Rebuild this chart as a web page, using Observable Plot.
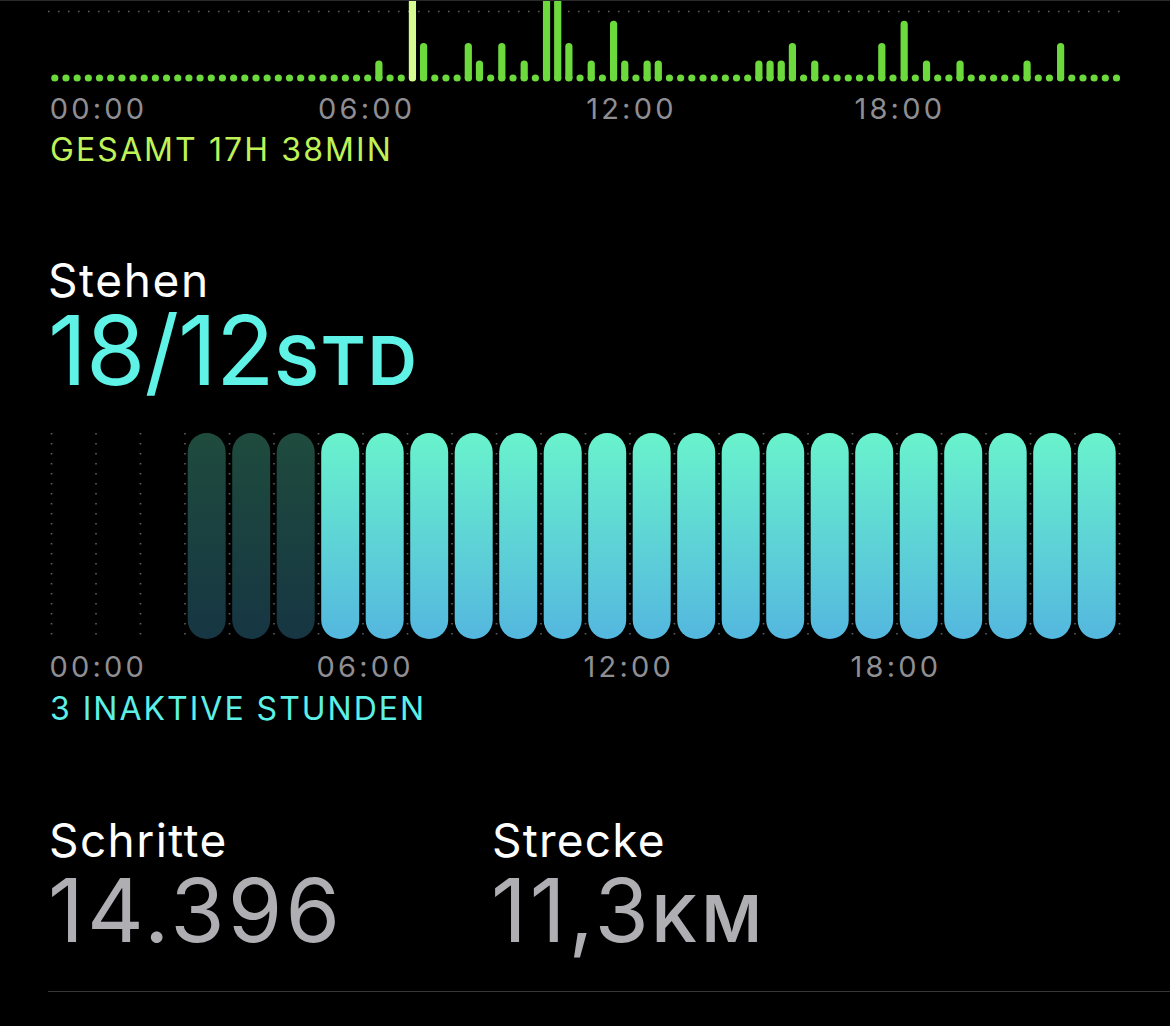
<!DOCTYPE html>
<html><head><meta charset="utf-8">
<script src="https://cdn.jsdelivr.net/npm/d3@7"></script>
<script src="https://cdn.jsdelivr.net/npm/@observablehq/plot@0.6"></script>
<style>
html,body{margin:0;padding:0;background:#000;width:1170px;height:1026px;overflow:hidden;}
body{position:relative;font-family:Inter,"Noto Sans",sans-serif;}
.t{position:absolute;white-space:nowrap;line-height:0.8;}
#exercise,#stand{position:absolute;left:0;}
#exercise{top:0;}
#stand{top:420px;}
#topline{position:absolute;left:0;top:0;width:1170px;height:1px;background:#2a2a2c;}
#divider{position:absolute;left:48px;top:991px;width:1122px;height:1px;background:#38383a;}
</style></head><body>
<div id="exercise"></div>
<div id="topline"></div>
<div class="t" id="total" style="left:50px;color:#bff257;font-size:32px;letter-spacing:2.1px"></div>
<div class="t" id="standTitle" style="left:48px;color:#fff;font-size:46px;letter-spacing:1.6px">Stehen</div>
<div class="t" id="standValue" style="left:48px;color:#5ff3e7;font-size:96px;letter-spacing:-1px"><span id="standNum"></span><span style="font-size:68px;font-weight:600;letter-spacing:2px;margin-left:1px">STD</span></div>
<div id="stand"></div>
<div class="t" id="inactive" style="left:50px;color:#5cf0e6;font-size:32px;letter-spacing:2px"></div>
<div class="t" id="stepsTitle" style="left:49px;color:#fff;font-size:46px;letter-spacing:1.4px">Schritte</div>
<div class="t" id="distTitle" style="left:492px;color:#fff;font-size:46px;letter-spacing:1.2px">Strecke</div>
<div class="t" id="stepsValue" style="left:48px;color:#aeaeb3;font-size:88px;letter-spacing:3.2px"></div>
<div class="t" id="distValue" style="left:491px;color:#aeaeb3;font-size:88px"><span id="distNum" style="letter-spacing:3px"></span><span style="font-size:65px;font-weight:600;letter-spacing:4px">KM</span></div>
<div id="divider"></div>
<script>
// ---------- data ----------
// exercise minutes per 15-minute slot (96 slots, 00:00 - 23:45)
const exerciseMinutes = [
  0,0,0,0,0,0,0,0,0,0, 0,0,0,0,0,0,0,0,0,0, 0,0,0,0,0,0,0,0,0,3,
  0,0,20,7,0,0,0,7,3,0, 7,0,3,0,20,20,7,0,3,0,
  12,3,0,3,3,0,0,0,0,0, 0,0,0,3,3,3,7,0,3,0,
  0,0,0,0,7,0,12,0,3,0, 0,3,0,0,0,0,0,3,0,0,
  7,0,0,0,0,0
];
const workoutSlots = [32];
const exerciseGoalLine = [15];
const tickHours = [0, 6, 12, 18];
const tickLabels = ["00:00", "06:00", "12:00", "18:00"];

const standHours = [0,1,2,3,4,5,6,7,8,9,10,11,12,13,14,15,16,17,18,19,20,21,22,23];
const standStatus = ["none","none","none","inactive","inactive","inactive",
  "stood","stood","stood","stood","stood","stood","stood","stood","stood",
  "stood","stood","stood","stood","stood","stood","stood","stood","stood"];
const standGridHours = [0,1,2,3,4,5,6,7,8,9,10,11,12,13,14,15,16,17,18,19,20,21,22,23,24];

const totalLabel = "GESAMT 17H 38MIN";
const standCount = "18/12";
const inactiveLabel = "3 INAKTIVE STUNDEN";
const stepsValue = "14.396";
const distanceValue = "11,3";

// ---------- text placement by baseline (line-height 0.8) ----------
function place(id, baseline, fs) {
  const el = document.getElementById(id);
  el.style.top = (baseline - 0.764 * fs) + "px";
}
document.getElementById("total").textContent = totalLabel;
document.getElementById("inactive").textContent = inactiveLabel;
document.getElementById("standNum").textContent = standCount;
document.getElementById("stepsValue").textContent = stepsValue;
document.getElementById("distNum").textContent = distanceValue;
place("total", 161.6, 32);
place("standTitle", 296.7, 46);
place("standValue", 385, 96);
place("inactive", 720, 32);
place("stepsTitle", 857, 46);
place("distTitle", 857, 46);
place("stepsValue", 942, 88);
place("distValue", 942, 88);

// ---------- exercise chart ----------
const slots = exerciseMinutes.map((m, i) => ({slot: i, minutes: m, workout: workoutSlots.includes(i)}));
const green = "#6cd93c", light = "#d6fb90";
const ex = Plot.plot({
  width: 1170, height: 125,
  marginLeft: 48, marginRight: 50, marginTop: 0, marginBottom: 47.5,
  x: {domain: [0, 95], range: [54.3, 1116], axis: null},
  y: {domain: [0, 17.5], range: [77.5, 0], axis: null},
  style: {background: "transparent", fontFamily: "Inter, 'Noto Sans', sans-serif", overflow: "hidden"},
  marks: [
    Plot.ruleY(exerciseGoalLine, {stroke: "#5e5e5e", strokeWidth: 1.6, strokeDasharray: "1.6 8.4"}),
    Plot.ruleX(slots.filter(d => d.minutes > 0), {x: "slot", y1: 0, y2: "minutes",
      stroke: d => d.workout ? light : green, strokeWidth: 7.2, strokeLinecap: "round"}),
    Plot.dot(slots, {x: "slot", y: 0, r: 3.6, fill: d => d.workout ? light : green, stroke: null}),
    Plot.text(tickHours, {x: d => d * 4, text: (d, i) => tickLabels[i], frameAnchor: "bottom",
      lineAnchor: "bottom", textAnchor: "start", dx: -5, dy: 40.8, fontSize: 29, fill: "#8e8e93"})
  ]
});
ex.style.letterSpacing = "3.2px";
document.getElementById("exercise").appendChild(ex);

// ---------- stand chart ----------
const stand = standHours.map((h, i) => ({hour: h, status: standStatus[i], value: 1}));
const st = Plot.plot({
  width: 1170, height: 270,
  marginLeft: 51, marginRight: 51, marginTop: 13, marginBottom: 51,
  x: {domain: [0, 24], range: [51, 1119], axis: null},
  y: {domain: [0, 1], axis: null},
  style: {background: "transparent", fontFamily: "Inter, 'Noto Sans', sans-serif"},
  marks: [
    Plot.ruleX(standGridHours, {stroke: "#5e5e5e", strokeWidth: 1.6, strokeDasharray: "1.6 8.4"}),
    Plot.rect(stand.filter(d => d.status === "inactive"), {x1: "hour", x2: d => d.hour + 1, y1: 0, y2: "value",
      insetLeft: 3.2, insetRight: 3.3, rx: 19, fill: "url(#inactiveGrad)"}),
    Plot.rect(stand.filter(d => d.status === "stood"), {x1: "hour", x2: d => d.hour + 1, y1: 0, y2: "value",
      insetLeft: 3.2, insetRight: 3.3, rx: 19, fill: "url(#stoodGrad)"}),
    Plot.text(tickHours, {x: d => d, text: (d, i) => tickLabels[i], frameAnchor: "bottom",
      lineAnchor: "bottom", textAnchor: "start", dx: -2, dy: 37.7, fontSize: 29, fill: "#8e8e93"})
  ]
});
st.style.letterSpacing = "3.2px";
const defs = d3.select(st).insert("defs", ":first-child");
function grad(id, top, bottom) {
  const g = defs.append("linearGradient").attr("id", id).attr("x1", 0).attr("y1", 0).attr("x2", 0).attr("y2", 1);
  g.append("stop").attr("offset", "0%").attr("stop-color", top);
  g.append("stop").attr("offset", "100%").attr("stop-color", bottom);
}
grad("stoodGrad", "#69f3cc", "#54b7df");
grad("inactiveGrad", "#1f4b3d", "#163643");
document.getElementById("stand").appendChild(st);
</script>
</body></html>
